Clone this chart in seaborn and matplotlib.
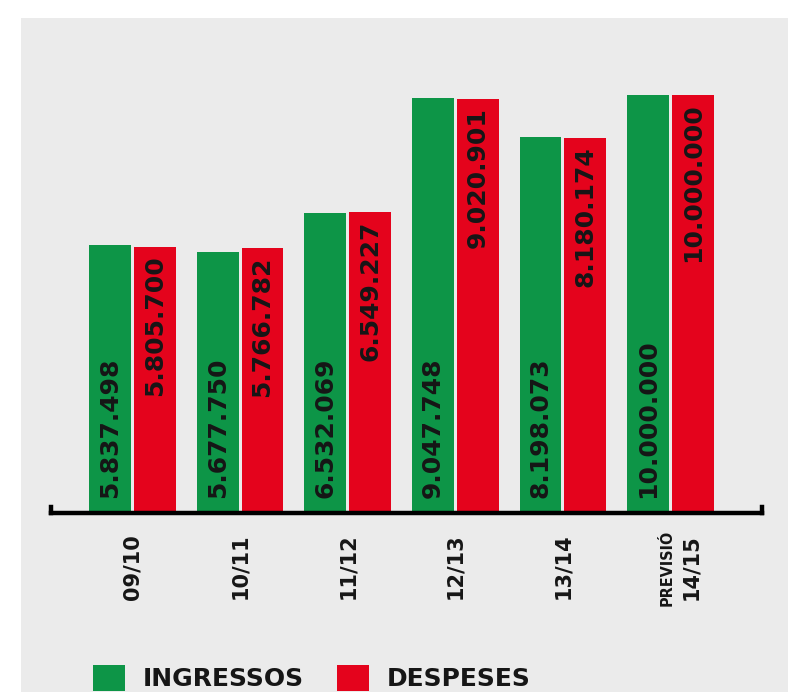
import matplotlib
matplotlib.use("Agg")
import matplotlib.pyplot as plt
import matplotlib.transforms as mtransforms
from matplotlib.patches import Rectangle
import seaborn as sns
import pandas as pd

# ---- data ----
periods = ["09/10", "10/11", "11/12", "12/13", "13/14", "14/15"]
ingressos = [5837498, 5677750, 6532069, 9047748, 8198073, 10000000]
despeses = [5805700, 5766782, 6549227, 9020901, 8180174, 10000000]
series_names = ["INGRESSOS", "DESPESES"]
forecast_note = "PREVISIÓ"

df = pd.DataFrame({
    "periode": periods * 2,
    "tipus": [series_names[0]] * len(periods) + [series_names[1]] * len(periods),
    "valor": ingressos + despeses,
})

sns.set_style("white")
plt.rcParams["font.family"] = ["DejaVu Sans"]

GREEN = "#0d9547"
RED = "#e4031c"
TEXT = "#161616"
PANEL = "#ebebeb"

fig = plt.figure(figsize=(8, 6.92), dpi=100)
fig.patch.set_facecolor("white")
fig.patches.append(Rectangle((21 / 800, 0), (788 - 21) / 800, (692 - 18) / 692,
                             transform=fig.transFigure, facecolor=PANEL,
                             edgecolor="none", zorder=-10))

ax = fig.add_axes([51 / 800, (692 - 513) / 692, 711 / 800, 418 / 692])
ax.set_facecolor("none")

sns.barplot(data=df, x="periode", y="valor", hue="tipus", order=periods,
            hue_order=series_names, palette=[GREEN, RED], width=0.835, gap=0.07,
            linewidth=0, edgecolor="none", saturation=1, ax=ax)

ax.set_xlim(-0.757, 5.85)
ax.set_ylim(0, 9.107e6)
ax.set_yticks([])
ax.set_xlabel("")
ax.set_ylabel("")

# spines: bottom axis line with small hooks at both ends
ax.spines["top"].set_visible(False)
for s in ["bottom", "left", "right"]:
    ax.spines[s].set_visible(True)
    ax.spines[s].set_color("black")
    ax.spines[s].set_linewidth(3.2)
    ax.spines[s].set_capstyle("projecting")
    ax.spines[s].set_zorder(5)
ax.spines["left"].set_bounds(0, 0.13e6)
ax.spines["right"].set_bounds(0, 0.13e6)

# x tick labels
ax.tick_params(axis="x", length=0, pad=15)
ax.tick_params(axis="y", length=0)
for lbl in ax.get_xticklabels():
    lbl.set_rotation(90)
    lbl.set_fontsize(15)
    lbl.set_fontweight("bold")
    lbl.set_color(TEXT)
last = ax.get_xticklabels()[-1]
last.set_transform(last.get_transform() +
                   mtransforms.ScaledTranslation(0.21, 0, fig.dpi_scale_trans))
ax.annotate(forecast_note, xy=(len(periods) - 1, 0), xycoords="data",
            xytext=(-2.5, -12), textcoords="offset points", rotation=90,
            ha="center", va="top", fontsize=11.5, fontweight="bold",
            fontstretch="condensed", color=TEXT, annotation_clip=False)

# value labels
ytop = ax.get_ylim()[1]
for ci, cont in enumerate(ax.containers):
    for bar in cont:
        h = bar.get_height()
        cx = bar.get_x() + bar.get_width() / 2
        txt = f"{int(round(h)):,}".replace(",", ".")
        if ci == 0:
            ax.annotate(txt, xy=(cx, 0), xytext=(0, 11), textcoords="offset points",
                        rotation=90, ha="center", va="bottom", fontsize=18,
                        fontweight="bold", color=TEXT)
        else:
            ax.annotate(txt, xy=(cx, min(h, ytop)), xytext=(0, -6),
                        textcoords="offset points", rotation=90, ha="center",
                        va="top", fontsize=18, fontweight="bold", color=TEXT)

# legend
sns.move_legend(ax, loc="center left", bbox_to_anchor=(93 / 800, 14 / 692),
                bbox_transform=fig.transFigure, ncol=2, frameon=False, title=None,
                fontsize=18, handlelength=1.28, handleheight=1.2,
                handletextpad=0.72, columnspacing=1.32, borderpad=0,
                borderaxespad=0)
for t in ax.get_legend().get_texts():
    t.set_fontweight("bold")
    t.set_color(TEXT)

fig.savefig("out.png", dpi=100, facecolor=fig.get_facecolor())
